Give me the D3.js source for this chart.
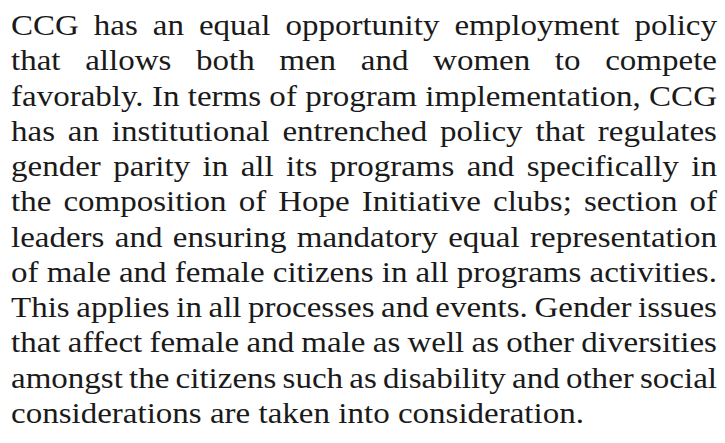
<!DOCTYPE html>
<html>
<head>
<meta charset="utf-8">
<script src="https://cdn.jsdelivr.net/npm/d3@7"></script>
<style>
  html, body { margin: 0; padding: 0; background: #fff; }
  svg { display: block; }
  text { font-family: "Liberation Serif", Tinos, "Times New Roman", serif; }
</style>
</head>
<body>
<div id="page"></div>
<script>
const w = 725;
const h = 443;

// text lines, as broken in the picture
const lines = [
    "CCG has an equal opportunity employment policy",
    "that allows both men and women to compete",
    "favorably. In terms of program implementation, CCG",
    "has an institutional entrenched policy that regulates",
    "gender parity in all its programs and specifically in",
    "the composition of Hope Initiative clubs; section of",
    "leaders and ensuring mandatory equal representation",
    "of male and female citizens in all programs activities.",
    "This applies in all processes and events. Gender issues",
    "that affect female and male as well as other diversities",
    "amongst the citizens such as disability and other social",
    "considerations are taken into consideration."
];
// last line is not justified, it stops here
const lastLineEnd = 584;

const left = 11, right = 717;
const fontSize = 29;

const svg = d3.select("#page").append("svg").attr("width", w).attr("height", h);
svg.append("rect").attr("width", w).attr("height", h).attr("fill", "#fff");

// baselines
const y = d3.scaleLinear().domain([0, lines.length - 1]).range([35, 423]);

// measuring helper
const probe = svg.append("text")
    .style("font-size", fontSize + "px")
    .attr("opacity", 0);
function measure(s) {
    probe.text(s);
    return probe.node().getComputedTextLength();
}

// horizontal squeeze so the face is as wide as the original
const sx = (lastLineEnd - left) / measure(lines[lines.length - 1]);
const spaceW = measure("a a") - measure("aa");

const rows = svg.selectAll(".row")
    .data(lines)
    .enter().append("g")
        .attr("class", "row")
        .attr("transform", (d, i) => "translate(0," + y(i) + ")");

//justify each line word by word
rows.each(function(line, i) {
    const words = line.split(" ");
    const widths = words.map(wd => measure(wd) * sx);
    const total = d3.sum(widths);
    const isLast = i === lines.length - 1;
    const gap = isLast ? spaceW * sx : (right - left - total) / (words.length - 1);
    let x = left;
    const pos = widths.map(wd => { const p = x; x += wd + gap; return p; });

    d3.select(this).selectAll("text")
        .data(words)
        .enter().append("text")
            .attr("transform", (d, j) => "translate(" + pos[j] + ",0) scale(" + sx + ",1)")
            .style("font-size", fontSize + "px")
            .style("fill", "#1a1a1a")
            .text(d => d);
});

probe.remove();
</script>
</body>
</html>
